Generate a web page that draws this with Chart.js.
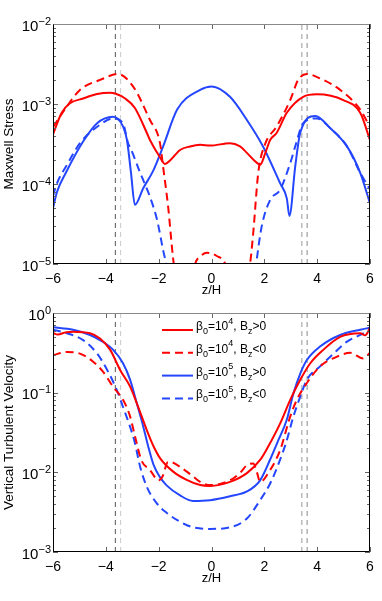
<!DOCTYPE html>
<html>
<head>
<meta charset="utf-8">
<script src="https://cdn.jsdelivr.net/npm/chart.js@4.4.0/dist/chart.umd.min.js"></script>
<style>
  body { margin: 0; background: #fff; }
  canvas { display: block; }
</style>
</head>
<body>
<canvas id="top" width="382" height="300"></canvas>
<canvas id="bot" width="382" height="301"></canvas>
<script>
// ---- data ----
var xTicks = [-6, -4, -2, 0, 2, 4, 6];
var xTickLabels = ["\u22126", "\u22124", "\u22122", "0", "2", "4", "6"];
var topYTicks = [1e-5, 1e-4, 1e-3, 1e-2];
var topYLabels = ["10^{\u22125}", "10^{\u22124}", "10^{\u22123}", "10^{\u22122}"];
var botYTicks = [1e-3, 1e-2, 1e-1, 1];
var botYLabels = ["10^{\u22123}", "10^{\u22122}", "10^{\u22121}", "10^{0}"];

var seriesLabels = ["\u03b2_0=10^4, B_z>0", "\u03b2_0=10^4, B_z<0", "\u03b2_0=10^5, B_z>0", "\u03b2_0=10^5, B_z<0"];

// dashed vertical markers
var vlineZ = [-3.64, -3.44, 3.42, 3.62];
var vlineColors = ["#555", "#c8c8c8", "#999", "#888"];

// Maxwell stress, top panel
var zMs1 = [-6, -5.67, -5.36, -4.86, -4.33, -3.84, -3.65, -3.27, -2.9, -2.45, -2.33, -1.98, -1.76, -1.55, -1.19, -0.81, -0.43, -0.05, 0.7, 1.08, 1.34, 1.6, 1.84, 2.05, 2.22, 2.47, 2.85, 3.47, 3.99, 4.99, 5.63, 6];
var ms1 = [4.17e-4, 7.76e-4, 1.02e-3, 1.17e-3, 1.33e-3, 1.38e-3, 1.35e-3, 1.17e-3, 8.91e-4, 4.37e-4, 3.55e-4, 2.24e-4, 1.78e-4, 2.0e-4, 2.66e-4, 2.95e-4, 3.09e-4, 3.02e-4, 3.24e-4, 2.95e-4, 2.45e-4, 2.0e-4, 1.74e-4, 2.51e-4, 3.55e-4, 4.37e-4, 7.76e-4, 1.23e-3, 1.32e-3, 1.12e-3, 7.76e-4, 3.55e-4];
var zMs2 = [-6, -5.62, -4.98, -4.22, -3.54, -2.97, -2.33, -1.95, -1.83, -1.64, -1.46, -1.3, -0.9, -0.62, -0.4, -0.18, 0.2, 0.52, 0.9, 1.3, 1.46, 1.58, 1.77, 2.03, 2.47, 2.98, 3.28, 3.61, 4.11, 4.87, 5.63, 6];
var ms2 = [5.13e-4, 7.94e-4, 1.50e-3, 2.0e-3, 2.37e-3, 1.66e-3, 6.31e-4, 3.24e-4, 1.62e-4, 5.13e-5, 1.23e-5, 5.0e-6, 3.16e-6, 1.0e-5, 1.26e-5, 1.38e-5, 1.26e-5, 1.0e-5, 3.16e-6, 5.0e-6, 1.0e-5, 2.45e-5, 1.38e-4, 3.16e-4, 5.25e-4, 1.12e-3, 2.0e-3, 2.37e-3, 2.09e-3, 1.50e-3, 8.51e-4, 5.13e-4];
var zMs3 = [-6, -5.85, -5.5, -4.86, -4.33, -3.73, -3.35, -3.2, -3.05, -2.9, -2.58, -2.2, -1.83, -1.3, -0.43, 0.01, 0.7, 1.34, 1.95, 2.6, 2.85, 2.95, 3.17, 3.36, 3.93, 4.49, 5.13, 5.63, 6];
var ms3 = [5.01e-5, 7.94e-5, 1.41e-4, 3.39e-4, 5.75e-4, 6.92e-4, 5.25e-4, 3.55e-4, 1.41e-4, 5.5e-5, 8.91e-5, 1.48e-4, 2.95e-4, 8.51e-4, 1.50e-3, 1.66e-3, 1.23e-3, 6.31e-4, 2.95e-4, 1.02e-4, 6.61e-5, 3.98e-5, 1.66e-4, 4.37e-4, 7.08e-4, 5.01e-4, 2.95e-4, 1.38e-4, 5.75e-5];
var zMs4 = [-6, -5.85, -5.47, -4.98, -4.22, -3.73, -3.35, -3.16, -3.08, -2.7, -2.33, -2.06, -1.83, -1.72, -1.5, 1.45, 1.69, 1.9, 2.22, 2.6, 2.98, 3.17, 3.47, 3.99, 4.49, 5.13, 5.63, 6];
var ms4 = [7.08e-5, 1.02e-4, 1.74e-4, 3.24e-4, 5.5e-4, 6.61e-4, 5.75e-4, 3.24e-4, 2.88e-4, 1.38e-4, 6.92e-5, 3.55e-5, 1.48e-5, 1.0e-5, 2.5e-6, 2.5e-6, 1.0e-5, 2.95e-5, 6.31e-5, 8.51e-5, 1.82e-4, 2.95e-4, 5.75e-4, 6.61e-4, 5.01e-4, 2.95e-4, 1.38e-4, 8.51e-5];

// vertical turbulent velocity, bottom panel
var zVz1 = [-6, -5.82, -5.5, -5.24, -4.6, -4.22, -3.84, -3.46, -3.08, -2.83, -2.45, -2.2, -1.95, -1.45, -0.94, -0.43, -0.05, 0.7, 1.34, 1.84, 2.14, 2.6, 2.98, 3.36, 3.74, 4.24, 4.87, 5.63, 5.82, 6];
var vz1 = [0.562, 0.537, 0.575, 0.582, 0.556, 0.479, 0.347, 0.193, 0.119, 0.0741, 0.0339, 0.0214, 0.0151, 0.0102, 0.00804, 0.00692, 0.00676, 0.00759, 0.00977, 0.0143, 0.0209, 0.0412, 0.0813, 0.145, 0.234, 0.347, 0.501, 0.556, 0.525, 0.646];
var zVz2 = [-6, -5.47, -4.98, -4.48, -4.1, -3.73, -3.35, -3.08, -2.88, -2.65, -2.33, -2.0, -1.85, -1.65, -1.45, -1.19, -0.7, -0.43, -0.05, 0.7, 1.1, 1.34, 1.58, 1.72, 1.84, 2.22, 2.6, 2.98, 3.23, 3.61, 4.11, 4.74, 5.25, 5.74, 6];
var vz2 = [0.295, 0.324, 0.309, 0.245, 0.182, 0.119, 0.0813, 0.0501, 0.0269, 0.0141, 0.0107, 0.00794, 0.00891, 0.0135, 0.0132, 0.0117, 0.00891, 0.00759, 0.00692, 0.00794, 0.01, 0.0123, 0.0129, 0.01, 0.00759, 0.0107, 0.0191, 0.0501, 0.0813, 0.132, 0.214, 0.282, 0.316, 0.269, 0.316];
var zVz3 = [-6, -5.24, -4.6, -4.22, -3.73, -3.35, -3.08, -2.83, -2.58, -2.4, -2.2, -1.95, -1.69, -1.19, -0.7, -0.05, 0.7, 1.34, 1.84, 2.22, 2.5, 2.85, 3.1, 3.36, 3.61, 4.11, 4.87, 5.63, 6];
var vz3 = [0.661, 0.617, 0.530, 0.457, 0.347, 0.234, 0.145, 0.0741, 0.0372, 0.0214, 0.0126, 0.0087, 0.00681, 0.00513, 0.00437, 0.00447, 0.00501, 0.00575, 0.00794, 0.0145, 0.0240, 0.0457, 0.0977, 0.174, 0.257, 0.380, 0.530, 0.617, 0.653];
var zVz4 = [-6, -5.47, -4.86, -4.33, -3.95, -3.58, -3.35, -3.08, -2.9, -2.7, -2.45, -2.07, -1.69, -1.19, -0.7, -0.05, 0.7, 1.34, 1.84, 2.22, 2.6, 2.83, 3.1, 3.36, 3.61, 4.11, 4.62, 5.13, 5.63, 6];
var vz4 = [0.617, 0.556, 0.457, 0.309, 0.193, 0.107, 0.0661, 0.0372, 0.0234, 0.0117, 0.00661, 0.00407, 0.00309, 0.0024, 0.00204, 0.00195, 0.00204, 0.00263, 0.00447, 0.00724, 0.0145, 0.0240, 0.0501, 0.0891, 0.145, 0.214, 0.309, 0.437, 0.530, 0.617];

var RED = "#ff0000", BLUE = "#2446ff";
var DASH = [8, 5];
var FONT = '"Liberation Sans", Arial, Helvetica, sans-serif';

function pts(zs, vs) {
  return zs.map(function (z, i) { return { x: z, y: vs[i] }; });
}

function curve(label, zs, vs, color, dashed) {
  return {
    label: label, data: pts(zs, vs), borderColor: color, borderWidth: 2,
    borderDash: dashed ? DASH : [], cubicInterpolationMode: "monotone",
    pointRadius: 0, borderJoinStyle: "round", order: 0, inLegend: true
  };
}

function vlines(yMin, yMax) {
  return vlineZ.map(function (z, i) {
    return {
      data: [{ x: z, y: yMin }, { x: z, y: yMax }], borderColor: vlineColors[i],
      borderWidth: 1, borderDash: [5, 4], pointRadius: 0, order: 1
    };
  });
}

// text with ^sup and _sub parts
function parseRich(s) {
  var out = [], buf = "", i = 0;
  while (i < s.length) {
    var c = s[i];
    if (c === "^" || c === "_") {
      if (buf) { out.push({ t: buf, m: 0 }); buf = ""; }
      var t;
      if (s[i + 1] === "{") { var j = s.indexOf("}", i); t = s.slice(i + 2, j); i = j + 1; }
      else { t = s[i + 1]; i += 2; }
      out.push({ t: t, m: c === "^" ? 1 : -1 });
    } else { buf += c; i++; }
  }
  if (buf) out.push({ t: buf, m: 0 });
  return out;
}

function drawRich(ctx, s, x, y, big, small, rise, drop, align) {
  var parts = parseRich(s), w = 0;
  parts.forEach(function (p) {
    ctx.font = (p.m ? small : big) + "px " + FONT;
    p.w = ctx.measureText(p.t).width; w += p.w;
  });
  var cx = align === "right" ? x - w : (align === "center" ? x - w / 2 : x);
  ctx.textAlign = "left"; ctx.textBaseline = "alphabetic";
  parts.forEach(function (p) {
    ctx.font = (p.m ? small : big) + "px " + FONT;
    ctx.fillText(p.t, cx, y + (p.m === 1 ? -rise : (p.m === -1 ? drop : 0)));
    cx += p.w;
  });
}

var framePlugin = {
  id: "frame",
  afterDatasetsDraw: function (chart, args, o) {
    var ctx = chart.ctx, a = chart.chartArea, xs = chart.scales.x, ys = chart.scales.y;
    ctx.save();
    // inward ticks on all sides
    ctx.strokeStyle = "#666"; ctx.lineWidth = 1;
    ctx.beginPath();
    xTicks.forEach(function (v) {
      var px = Math.round(xs.getPixelForValue(v)) + 0.5;
      ctx.moveTo(px, a.bottom); ctx.lineTo(px, a.bottom - 5);
      ctx.moveTo(px, a.top); ctx.lineTo(px, a.top + 5);
    });
    var lo = Math.round(Math.log10(ys.min)), hi = Math.round(Math.log10(ys.max));
    for (var d = lo; d <= hi; d++) {
      for (var k = 1; k <= 9; k++) {
        var v = k * Math.pow(10, d);
        if (v > ys.max * 1.0001) break;
        var len = k === 1 ? 5 : 3;
        var py = Math.round(ys.getPixelForValue(v)) + 0.5;
        ctx.moveTo(a.left, py); ctx.lineTo(a.left + len, py);
        ctx.moveTo(a.right, py); ctx.lineTo(a.right - len, py);
      }
    }
    ctx.stroke();
    // box
    var L = Math.round(a.left) + 0.5, R = Math.round(a.right) - 0.5;
    var T = Math.round(a.top) + 0.5, B = Math.round(a.bottom) - 0.5;
    ctx.strokeStyle = "#8a8a8a";
    ctx.beginPath(); ctx.moveTo(L, T); ctx.lineTo(R, T); ctx.stroke();
    ctx.strokeStyle = "#000";
    ctx.beginPath(); ctx.moveTo(R, T); ctx.lineTo(R, B); ctx.lineTo(L, B); ctx.lineTo(L, T); ctx.stroke();
    // tick labels
    ctx.fillStyle = "#000";
    xTicks.forEach(function (v, i) {
      drawRich(ctx, xTickLabels[i], xs.getPixelForValue(v), a.bottom + 19, 14, 10, 0, 0, "center");
    });
    o.yTicks.forEach(function (v, i) {
      drawRich(ctx, o.yLabels[i], 51, ys.getPixelForValue(v) + 6.5, 15, 11, 6, 0, "right");
    });
    // axis titles
    ctx.font = "13px " + FONT; ctx.textAlign = "center"; ctx.textBaseline = "alphabetic";
    ctx.fillText(o.xTitle, (a.left + a.right) / 2, a.bottom + 30);
    ctx.save();
    ctx.translate(13, (a.top + a.bottom) / 2); ctx.rotate(-Math.PI / 2);
    ctx.font = "13.5px " + FONT;
    ctx.fillText(o.yTitle, 0, 0);
    ctx.restore();
    // legend
    if (o.legend) {
      var items = chart.data.datasets.filter(function (ds) { return ds.inLegend; });
      items.forEach(function (ds, i) {
        var y = a.top + 17 + i * 22.8;
        ctx.strokeStyle = ds.borderColor; ctx.lineWidth = 2;
        ctx.setLineDash(ds.borderDash); ctx.beginPath();
        ctx.moveTo(162, y); ctx.lineTo(193, y); ctx.stroke();
        ctx.setLineDash([]);
        ctx.fillStyle = "#000";
        drawRich(ctx, ds.label, 196, y, 12, 9, 6.5, 4, "left");
      });
    }
    ctx.restore();
  }
};

function makeChart(id, pad, yMin, yMax, datasets, opts) {
  return new Chart(document.getElementById(id), {
    type: "line",
    data: { datasets: datasets.concat(vlines(yMin, yMax)) },
    options: {
      responsive: false, animation: false, devicePixelRatio: 1,
      layout: { padding: pad },
      scales: {
        x: { type: "linear", min: -6, max: 6, display: false },
        y: { type: "logarithmic", min: yMin, max: yMax, display: false }
      },
      plugins: { legend: { display: false }, tooltip: { enabled: false }, frame: opts }
    },
    plugins: [framePlugin]
  });
}

makeChart("top", { left: 53, right: 12, top: 24, bottom: 36 }, 1e-5, 1e-2, [
  curve(seriesLabels[0], zMs1, ms1, RED, false),
  curve(seriesLabels[1], zMs2, ms2, RED, true),
  curve(seriesLabels[2], zMs3, ms3, BLUE, false),
  curve(seriesLabels[3], zMs4, ms4, BLUE, true)
], { yTicks: topYTicks, yLabels: topYLabels, xTitle: "z/H", yTitle: "Maxwell Stress", legend: false });

makeChart("bot", { left: 53, right: 12, top: 13, bottom: 49 }, 1e-3, 1, [
  curve(seriesLabels[0], zVz1, vz1, RED, false),
  curve(seriesLabels[1], zVz2, vz2, RED, true),
  curve(seriesLabels[2], zVz3, vz3, BLUE, false),
  curve(seriesLabels[3], zVz4, vz4, BLUE, true)
], { yTicks: botYTicks, yLabels: botYLabels, xTitle: "z/H", yTitle: "Vertical Turbulent Velocity", legend: true });
</script>
</body>
</html>
